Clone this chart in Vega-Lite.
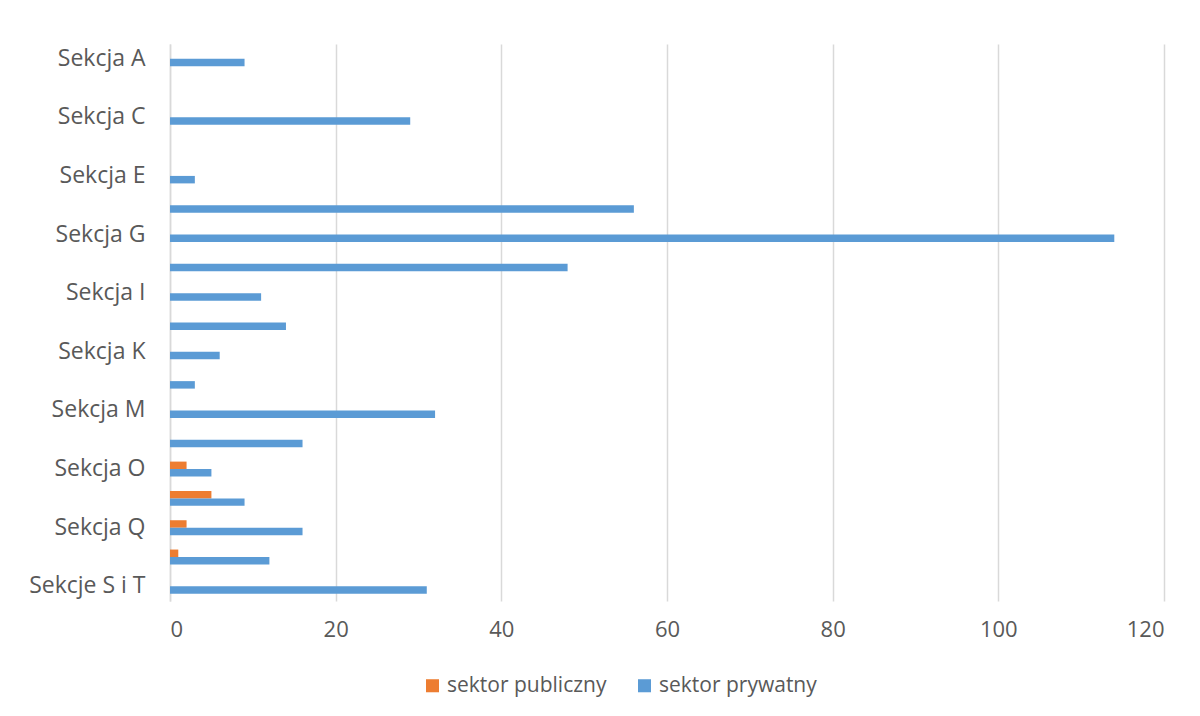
{
  "$schema": "https://vega.github.io/schema/vega-lite/v6.json",
  "width": 994,
  "height": 557,
  "autosize": {"type": "none"},
  "padding": {"left": 170, "top": 44, "right": 36, "bottom": 115},
  "background": "white",
  "config": {"view": {"stroke": null}, "font": "Open Sans"},
  "data": {
    "values": [
      {"sekcja": "Sekcja A", "sektor": "sektor publiczny", "wartosc": 0},
      {"sekcja": "Sekcja A", "sektor": "sektor prywatny", "wartosc": 9},
      {"sekcja": "Sekcja B", "sektor": "sektor publiczny", "wartosc": 0},
      {"sekcja": "Sekcja B", "sektor": "sektor prywatny", "wartosc": 0},
      {"sekcja": "Sekcja C", "sektor": "sektor publiczny", "wartosc": 0},
      {"sekcja": "Sekcja C", "sektor": "sektor prywatny", "wartosc": 29},
      {"sekcja": "Sekcja D", "sektor": "sektor publiczny", "wartosc": 0},
      {"sekcja": "Sekcja D", "sektor": "sektor prywatny", "wartosc": 0},
      {"sekcja": "Sekcja E", "sektor": "sektor publiczny", "wartosc": 0},
      {"sekcja": "Sekcja E", "sektor": "sektor prywatny", "wartosc": 3},
      {"sekcja": "Sekcja F", "sektor": "sektor publiczny", "wartosc": 0},
      {"sekcja": "Sekcja F", "sektor": "sektor prywatny", "wartosc": 56},
      {"sekcja": "Sekcja G", "sektor": "sektor publiczny", "wartosc": 0},
      {"sekcja": "Sekcja G", "sektor": "sektor prywatny", "wartosc": 114},
      {"sekcja": "Sekcja H", "sektor": "sektor publiczny", "wartosc": 0},
      {"sekcja": "Sekcja H", "sektor": "sektor prywatny", "wartosc": 48},
      {"sekcja": "Sekcja I", "sektor": "sektor publiczny", "wartosc": 0},
      {"sekcja": "Sekcja I", "sektor": "sektor prywatny", "wartosc": 11},
      {"sekcja": "Sekcja J", "sektor": "sektor publiczny", "wartosc": 0},
      {"sekcja": "Sekcja J", "sektor": "sektor prywatny", "wartosc": 14},
      {"sekcja": "Sekcja K", "sektor": "sektor publiczny", "wartosc": 0},
      {"sekcja": "Sekcja K", "sektor": "sektor prywatny", "wartosc": 6},
      {"sekcja": "Sekcja L", "sektor": "sektor publiczny", "wartosc": 0},
      {"sekcja": "Sekcja L", "sektor": "sektor prywatny", "wartosc": 3},
      {"sekcja": "Sekcja M", "sektor": "sektor publiczny", "wartosc": 0},
      {"sekcja": "Sekcja M", "sektor": "sektor prywatny", "wartosc": 32},
      {"sekcja": "Sekcja N", "sektor": "sektor publiczny", "wartosc": 0},
      {"sekcja": "Sekcja N", "sektor": "sektor prywatny", "wartosc": 16},
      {"sekcja": "Sekcja O", "sektor": "sektor publiczny", "wartosc": 2},
      {"sekcja": "Sekcja O", "sektor": "sektor prywatny", "wartosc": 5},
      {"sekcja": "Sekcja P", "sektor": "sektor publiczny", "wartosc": 5},
      {"sekcja": "Sekcja P", "sektor": "sektor prywatny", "wartosc": 9},
      {"sekcja": "Sekcja Q", "sektor": "sektor publiczny", "wartosc": 2},
      {"sekcja": "Sekcja Q", "sektor": "sektor prywatny", "wartosc": 16},
      {"sekcja": "Sekcja R", "sektor": "sektor publiczny", "wartosc": 1},
      {"sekcja": "Sekcja R", "sektor": "sektor prywatny", "wartosc": 12},
      {"sekcja": "Sekcje S i T", "sektor": "sektor publiczny", "wartosc": 0},
      {"sekcja": "Sekcje S i T", "sektor": "sektor prywatny", "wartosc": 31}
    ]
  },
  "mark": {"type": "bar"},
  "encoding": {
    "y": {
      "field": "sekcja",
      "type": "nominal",
      "sort": ["Sekcja A", "Sekcja B", "Sekcja C", "Sekcja D", "Sekcja E", "Sekcja F", "Sekcja G", "Sekcja H", "Sekcja I", "Sekcja J", "Sekcja K", "Sekcja L", "Sekcja M", "Sekcja N", "Sekcja O", "Sekcja P", "Sekcja Q", "Sekcja R", "Sekcje S i T"],
      "scale": {"paddingInner": 0.49, "paddingOuter": 0.245},
      "axis": {
        "title": null,
        "values": ["Sekcja A", "Sekcja C", "Sekcja E", "Sekcja G", "Sekcja I", "Sekcja K", "Sekcja M", "Sekcja O", "Sekcja Q", "Sekcje S i T"],
        "ticks": false,
        "domainColor": "#d9d9d9",
        "domainWidth": 1.5,
        "labelFont": "Open Sans",
        "labelFontSize": 23,
        "labelColor": "#595959",
        "labelPadding": 25,
        "labelLimit": 300
      }
    },
    "x": {
      "field": "wartosc",
      "type": "quantitative",
      "scale": {"domain": [0, 120], "nice": false},
      "axis": {
        "title": null,
        "values": [0, 20, 40, 60, 80, 100, 120],
        "grid": true,
        "gridColor": "#d9d9d9",
        "gridWidth": 1.5,
        "domain": false,
        "ticks": false,
        "labelFont": "Open Sans",
        "labelFontSize": 22,
        "labelColor": "#595959",
        "labelPadding": 18
      }
    },
    "yOffset": {
      "field": "sektor",
      "type": "nominal",
      "sort": ["sektor publiczny", "sektor prywatny"],
      "scale": {"paddingInner": 0, "paddingOuter": 0}
    },
    "color": {
      "field": "sektor",
      "type": "nominal",
      "sort": ["sektor publiczny", "sektor prywatny"],
      "scale": {"domain": ["sektor publiczny", "sektor prywatny"], "range": ["#ED7D31", "#5B9BD5"]},
      "legend": {
        "title": null,
        "orient": "none",
        "legendX": 252,
        "legendY": 631,
        "direction": "horizontal",
        "symbolType": "square",
        "symbolSize": 170,
        "symbolStrokeWidth": 0,
        "labelFont": "Open Sans",
        "labelFontSize": 21,
        "labelColor": "#595959",
        "labelOffset": 4,
        "columnPadding": 27
      }
    }
  }
}
